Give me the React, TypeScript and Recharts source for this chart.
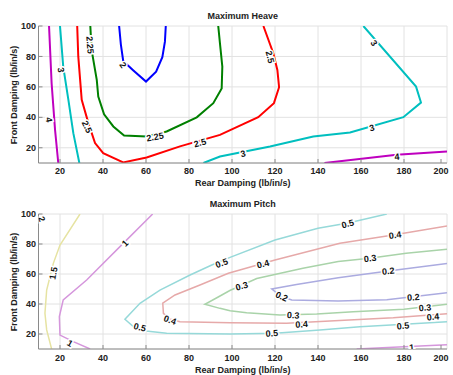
import React from 'react'
import { ComposedChart, Line, Scatter, XAxis, YAxis, CartesianGrid } from 'recharts'

// rear damping ticks and front damping ticks
const xTicks = [20, 40, 60, 80, 100, 120, 140, 160, 180, 200]
const yTicks = [20, 40, 60, 80, 100]

// Maximum Heave contours
const heave2 = [
    { x: 47.5, y: 100 }, { x: 48.3, y: 88 }, { x: 49.4, y: 77 }, { x: 54, y: 71 }, { x: 60, y: 63.5 },
    { x: 64.7, y: 70 }, { x: 67.6, y: 79.5 }, { x: 68.8, y: 89.7 }, { x: 69.2, y: 100 },
]
const heave225 = [
    { x: 34.1, y: 100 }, { x: 34.7, y: 84.3 }, { x: 37.1, y: 64.6 }, { x: 37.8, y: 53.6 }, { x: 40.5, y: 42 },
    { x: 44.8, y: 34 }, { x: 49.8, y: 28 }, { x: 60.3, y: 27.4 }, { x: 69.6, y: 30.7 }, { x: 83.6, y: 40 },
    { x: 91.3, y: 49.3 }, { x: 95.2, y: 59 }, { x: 95.5, y: 73.3 }, { x: 94.4, y: 88.6 }, { x: 93.6, y: 100 },
]
const heave25 = [
    { x: 28, y: 100 }, { x: 28.5, y: 80 }, { x: 30.1, y: 51.5 }, { x: 33.2, y: 36.2 }, { x: 36.3, y: 23.1 },
    { x: 40.1, y: 16.5 }, { x: 49.4, y: 10.4 }, { x: 60.3, y: 13.6 }, { x: 75.8, y: 20.9 }, { x: 94.4, y: 28.5 },
    { x: 112.2, y: 40.1 }, { x: 119.5, y: 49.3 }, { x: 121.9, y: 59.8 }, { x: 121.1, y: 71.1 }, { x: 119.2, y: 82.1 },
    { x: 114.6, y: 100 },
]
const heave3a = [{ x: 20, y: 100 }, { x: 21.5, y: 73.3 }, { x: 23.9, y: 51.5 }, { x: 26.2, y: 29.6 }, { x: 29, y: 10 }]
const heave3b = [
    { x: 86.7, y: 10 }, { x: 94.4, y: 14.3 }, { x: 117.7, y: 20.9 }, { x: 137.8, y: 27.4 }, { x: 154.9, y: 30 },
    { x: 179.7, y: 40.1 }, { x: 187.9, y: 49.7 }, { x: 185.6, y: 60.2 }, { x: 161.1, y: 100 },
]
const heave4a = [{ x: 14.9, y: 100 }, { x: 16.1, y: 62.4 }, { x: 17.7, y: 31.8 }, { x: 19.2, y: 10 }]
const heave4b = [{ x: 143, y: 10 }, { x: 176.6, y: 15.4 }, { x: 200, y: 17.6 }]

const heaveLabels = [
    { x: 49.3, y: 74.4, t: '2', a: 55 },
    { x: 34, y: 87.5, t: '2.25', a: 85 },
    { x: 64.2, y: 27.2, t: '2.25', a: -10 },
    { x: 32.6, y: 33.8, t: '2.5', a: 65 },
    { x: 85.1, y: 23.3, t: '2.5', a: -15 },
    { x: 117.7, y: 79.7, t: '2.5', a: 75 },
    { x: 20.5, y: 71.1, t: '3', a: 80 },
    { x: 166, y: 88.9, t: '3', a: 55 },
    { x: 165.1, y: 33.1, t: '3', a: -15 },
    { x: 105.1, y: 16.1, t: '3', a: -12 },
    { x: 14.9, y: 38.4, t: '4', a: 80 },
    { x: 176.7, y: 14.1, t: '4', a: -5 },
]

// Maximum Pitch contours
const pitch15 = [
    { x: 29.3, y: 100 }, { x: 20, y: 79.3 }, { x: 16.9, y: 67.1 }, { x: 13.8, y: 49.3 }, { x: 13, y: 33.8 },
    { x: 13.8, y: 22.7 }, { x: 16.1, y: 10 },
]
const pitch1a = [
    { x: 63.1, y: 100 }, { x: 49.4, y: 80.4 }, { x: 32.4, y: 56 }, { x: 21.5, y: 42.7 }, { x: 19.7, y: 31.6 },
    { x: 20, y: 19.3 }, { x: 26.2, y: 14.9 }, { x: 34, y: 10 },
]
const pitch1b = [{ x: 158, y: 10 }, { x: 170, y: 10.8 }, { x: 200, y: 12.9 }]
const pitch05 = [
    { x: 172, y: 100 }, { x: 154, y: 94 }, { x: 140, y: 90.5 }, { x: 120, y: 82.7 }, { x: 99.1, y: 71.1 },
    { x: 90.6, y: 66 }, { x: 80.5, y: 59.3 }, { x: 66.5, y: 49.3 }, { x: 57.2, y: 40.5 }, { x: 50.2, y: 29.8 },
    { x: 54.1, y: 24.9 }, { x: 60, y: 22 }, { x: 69.6, y: 20.5 }, { x: 99.1, y: 20 }, { x: 120, y: 20.5 },
    { x: 140.9, y: 22.7 }, { x: 159.5, y: 24.9 }, { x: 180, y: 26.5 }, { x: 200, y: 28.2 },
]
const pitch04 = [
    { x: 200, y: 92 }, { x: 175, y: 86 }, { x: 150.2, y: 80.5 }, { x: 120, y: 69.3 }, { x: 98.3, y: 60.5 },
    { x: 85.1, y: 52.7 }, { x: 73.5, y: 46 }, { x: 67.8, y: 40.5 }, { x: 68.1, y: 33.8 }, { x: 71, y: 30 },
    { x: 75.8, y: 28.2 }, { x: 99.1, y: 27.5 }, { x: 125.4, y: 27.1 }, { x: 150, y: 29 }, { x: 175, y: 30.8 },
    { x: 200, y: 33.5 },
]
const pitch03 = [
    { x: 200, y: 76.5 }, { x: 181, y: 73.8 }, { x: 164, y: 70.5 }, { x: 149.4, y: 68.3 }, { x: 133, y: 63.8 },
    { x: 111.5, y: 57 }, { x: 104.5, y: 52.5 }, { x: 99, y: 49 }, { x: 94, y: 45 }, { x: 87.4, y: 39.8 },
    { x: 94.4, y: 37.1 }, { x: 99.1, y: 35.5 }, { x: 106.8, y: 34.2 }, { x: 122.3, y: 32.7 }, { x: 139.4, y: 33.3 },
    { x: 156.4, y: 34.9 }, { x: 180, y: 36.5 }, { x: 200, y: 39.8 },
]
const pitch02 = [
    { x: 200, y: 67 }, { x: 172.7, y: 62 }, { x: 149.4, y: 57.5 }, { x: 130, y: 53 }, { x: 118.5, y: 50 },
    { x: 123, y: 45 }, { x: 127.8, y: 42.7 }, { x: 149.4, y: 42 }, { x: 172, y: 42.8 }, { x: 200, y: 47.5 },
]

const pitchLabels = [
    { x: 11.6, y: 96.7, t: '2', a: 70 },
    { x: 16.9, y: 60.5, t: '1.5', a: -80 },
    { x: 50.2, y: 80.5, t: '1', a: -45 },
    { x: 24.7, y: 13.8, t: '1', a: 30 },
    { x: 183.6, y: 11.1, t: '1', a: -5 },
    { x: 95.2, y: 67.3, t: '0.5', a: -20 },
    { x: 153.8, y: 93.5, t: '0.5', a: -15 },
    { x: 57.2, y: 24.5, t: '0.5', a: 15 },
    { x: 118.5, y: 20.5, t: '0.5', a: -3 },
    { x: 179.5, y: 25.5, t: '0.5', a: -5 },
    { x: 71.2, y: 29.4, t: '0.4', a: 20 },
    { x: 114.4, y: 66.7, t: '0.4', a: -15 },
    { x: 175.8, y: 86, t: '0.4', a: -8 },
    { x: 132.4, y: 26.5, t: '0.4', a: -3 },
    { x: 193.5, y: 31.5, t: '0.4', a: -5 },
    { x: 104.5, y: 52, t: '0.3', a: -15 },
    { x: 164.2, y: 70.5, t: '0.3', a: -7 },
    { x: 128.5, y: 32.5, t: '0.3', a: 3 },
    { x: 189.8, y: 37.6, t: '0.3', a: -5 },
    { x: 123.1, y: 45, t: '0.2', a: 25 },
    { x: 172.7, y: 62, t: '0.2', a: -5 },
    { x: 184.3, y: 44.5, t: '0.2', a: -3 },
]

const FONT = '"Liberation Sans", Arial, sans-serif'
const BOX = '#8a8a8a'

const ContourLabel = (props: any) => {
    const { cx, cy, payload } = props
    return (
        <text x={cx} y={cy} dy="0.35em" textAnchor="middle"
            transform={`rotate(${payload.a} ${cx} ${cy})`}
            fontFamily={FONT} fontSize={9} fontWeight="bold" fill="#111"
            stroke="#fff" strokeWidth={3} paintOrder="stroke">
            {payload.t}
        </text>
    )
}

const XTick = (props: any) => {
    const { x, y, payload } = props
    const base = y - props.gap
    return (
        <g>
            <line x1={x} x2={x} y1={base} y2={base - 4} stroke={BOX} />
            <text x={x} y={y} dy="0.35em" textAnchor="middle" fontFamily={FONT} fontSize={9} fontWeight="bold" fill="#222">
                {payload.value}
            </text>
        </g>
    )
}

const YTick = (props: any) => {
    const { x, y, payload } = props
    const base = x + 2.5
    return (
        <g>
            <line x1={base} x2={base + 4} y1={y} y2={y} stroke={BOX} />
            <text x={x} y={y} dy="0.35em" textAnchor="end" fontFamily={FONT} fontSize={9} fontWeight="bold" fill="#222">
                {payload.value}
            </text>
        </g>
    )
}

const textStyle: React.CSSProperties = {
    position: 'absolute', fontFamily: FONT, fontSize: 9, fontWeight: 'bold', color: '#222',
    whiteSpace: 'nowrap', lineHeight: '10px',
}

type Series = { data: { x: number; y: number }[]; color: string }

const ContourPlot = ({ top, height, marginTop, marginBottom, gap, series, labels, width }: any) => (
    <div style={{ position: 'absolute', left: 0, top }}>
        <ComposedChart width={453} height={height} margin={{ top: marginTop, right: 6, bottom: marginBottom, left: 0 }}>
            <CartesianGrid stroke="#e2e2e2" />
            <XAxis dataKey="x" type="number" domain={[10, 200]} ticks={xTicks} allowDataOverflow
                height={20} tickSize={0} tickMargin={gap} tickLine={false} axisLine={{ stroke: BOX }}
                tick={(p: any) => <XTick {...p} gap={gap} />} />
            <XAxis xAxisId="top" orientation="top" type="number" domain={[10, 200]} ticks={xTicks}
                height={0} mirror tickSize={4} axisLine={{ stroke: BOX }} tickLine={{ stroke: BOX }} tick={() => <g />} />
            <YAxis type="number" domain={[10, 100]} ticks={yTicks} allowDataOverflow width={38.5}
                tickSize={0} tickMargin={2.5} tickLine={false} axisLine={{ stroke: BOX }} tick={(p: any) => <YTick {...p} />} />
            <YAxis yAxisId="right" orientation="right" type="number" domain={[10, 100]} ticks={yTicks}
                width={0} mirror tickSize={4} axisLine={{ stroke: BOX }} tickLine={{ stroke: BOX }} tick={() => <g />} />
            {series.map((s: Series, i: number) => (
                <Line key={i} data={s.data} dataKey="y" stroke={s.color} strokeWidth={width}
                    dot={false} activeDot={false} isAnimationActive={false} />
            ))}
            <Scatter data={labels} dataKey="y" isAnimationActive={false} shape={(p: any) => <ContourLabel {...p} />} />
        </ComposedChart>
    </div>
)

const heaveSeries: Series[] = [
    { data: heave4a, color: '#bf00bf' }, { data: heave4b, color: '#bf00bf' },
    { data: heave3a, color: '#00bfbf' }, { data: heave3b, color: '#00bfbf' },
    { data: heave25, color: '#ff0000' }, { data: heave225, color: '#008000' },
    { data: heave2, color: '#0000ff' },
]

const pitchSeries: Series[] = [
    { data: pitch15, color: '#e6e3a2' }, { data: pitch1a, color: '#d596dc' }, { data: pitch1b, color: '#d596dc' },
    { data: pitch05, color: '#96d9d9' }, { data: pitch04, color: '#e6a9a9' }, { data: pitch03, color: '#a9d3a9' },
    { data: pitch02, color: '#ababe0' },
]

const App = () => {
    return (
        <div style={{ position: 'absolute', left: 0, top: 0, width: 453, height: 375, background: '#fff', overflow: 'hidden' }}>
            <ContourPlot top={0} height={190} marginTop={26} marginBottom={7} gap={8} series={heaveSeries} labels={heaveLabels} width={2} />
            <ContourPlot top={190} height={185} marginTop={24} marginBottom={6} gap={9} series={pitchSeries} labels={pitchLabels} width={1.5} />

            <div style={{ ...textStyle, left: 242.75, top: 11, transform: 'translateX(-50%)' }}>Maximum Heave</div>
            <div style={{ ...textStyle, left: 242.75, top: 178, transform: 'translateX(-50%)' }}>Rear Damping (lb/in/s)</div>
            <div style={{ ...textStyle, left: 14, top: 94.5, transform: 'translate(-50%, -50%) rotate(-90deg)' }}>Front Damping (lb/in/s)</div>

            <div style={{ ...textStyle, left: 242.75, top: 199, transform: 'translateX(-50%)' }}>Maximum Pitch</div>
            <div style={{ ...textStyle, left: 242.75, top: 365, transform: 'translateX(-50%)' }}>Rear Damping (lb/in/s)</div>
            <div style={{ ...textStyle, left: 14, top: 281.5, transform: 'translate(-50%, -50%) rotate(-90deg)' }}>Front Damping (lb/in/s)</div>
        </div>
    )
}

export default App
